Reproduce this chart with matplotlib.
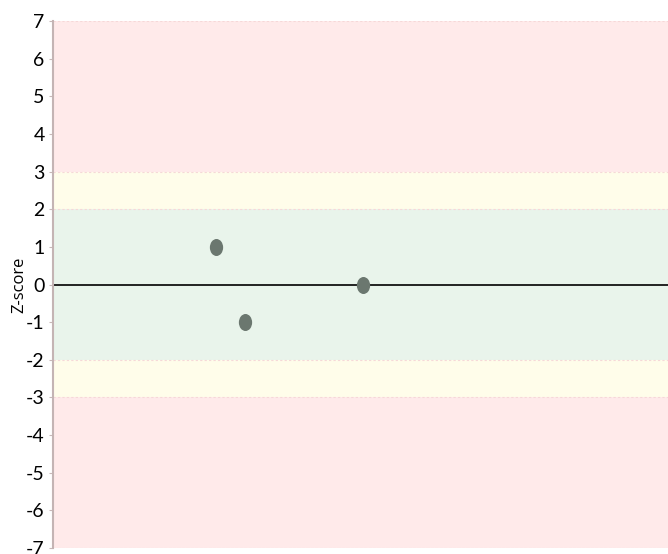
import matplotlib
matplotlib.use("Agg")
import matplotlib.pyplot as plt
from matplotlib.path import Path
from matplotlib.transforms import Affine2D

# data
x_vals = [2.65, 3.12, 5.04]
z_vals = [1.0, -1.0, 0.0]
y_ticks = list(range(-7, 8))

# bands: (low, high, colour)
bands = [(3, 7, "#ffeaea"), (2, 3, "#fffdea"), (-2, 2, "#e9f4eb"),
         (-3, -2, "#fffdea"), (-7, -3, "#ffeaea")]

fig = plt.figure(figsize=(6.68, 5.54), dpi=100)
ax = fig.add_axes([0.0793, 0.0108, 0.9207, 0.9513])

for lo, hi, c in bands:
    ax.axhspan(lo, hi, color=c, lw=0, zorder=0)
for edge in [3, 2, -2, -3, 7, -7]:
    ax.axhline(edge, color="#f6d8d8", lw=0.8, ls=(0, (2, 2)), zorder=1)

ax.axhline(0, color="black", lw=1.2, zorder=2)

ell = Path.unit_circle().transformed(Affine2D().scale(0.78, 1.0))
ax.scatter(x_vals, z_vals, marker=ell, s=150, color="#6b776f", zorder=3, linewidths=0)

ax.set_xlim(0, 10)
ax.set_ylim(-7, 7)
ax.set_yticks(y_ticks)
ax.set_yticklabels([str(t) for t in y_ticks], family="Lato", fontsize=14)
ax.set_xticks([])
ax.tick_params(axis="y", length=3, width=0.8, color="#c8b8b8", pad=3)
for s in ["top", "right", "bottom"]:
    ax.spines[s].set_visible(False)
ax.spines["left"].set_color("#c4b4b4")
ax.spines["left"].set_linewidth(1.5)
ax.set_ylabel("Z-score", family="Open Sans", fontsize=12)
ax.yaxis.set_label_coords(-0.041, 0.5)

fig.savefig("out.png", dpi=100)
